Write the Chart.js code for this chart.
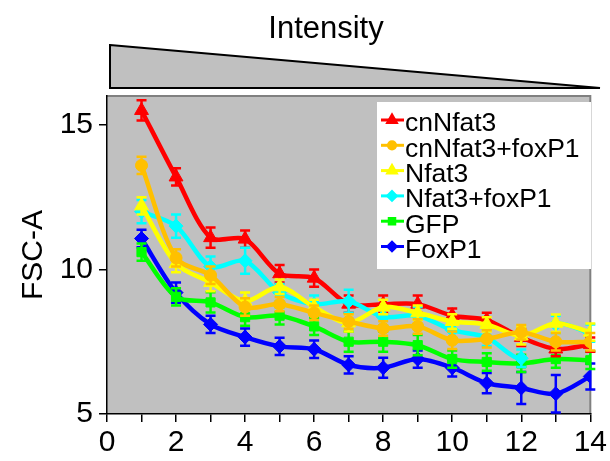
<!DOCTYPE html>
<html>
<head>
<meta charset="utf-8">
<script src="https://cdn.jsdelivr.net/npm/chart.js@4.4.1/dist/chart.umd.min.js"></script>
<style>
  html, body { margin: 0; padding: 0; background: #fff; }
  #chart { display: block; }
</style>
</head>
<body>
<canvas id="chart" width="610" height="461"></canvas>
<script>
// Data
const xValues = [1, 2, 3, 4, 5, 6, 7, 8, 9, 10, 11, 12, 13, 14];
const yTicks = [5, 10, 15];

const cnNfat3 = [15.5, 13.2, 11.1, 11.05, 9.85, 9.7, 8.8, 8.8, 8.8, 8.4, 8.25, 7.65, 7.25, 7.4];
const cnNfat3Err = [0.35, 0.3, 0.35, 0.3, 0.3, 0.3, 0.3, 0.3, 0.3, 0.25, 0.25, 0.3, 0.25, 0.25];

const cnNfat3FoxP1 = [13.6, 10.4, 9.8, 8.7, 8.8, 8.5, 8.2, 7.96, 8.03, 7.55, 7.6, 7.83, 7.5, 7.5];
const cnNfat3FoxP1Err = [0.3, 0.3, 0.3, 0.3, 0.25, 0.25, 0.25, 0.25, 0.25, 0.3, 0.3, 0.25, 0.3, 0.3];

const nfat3 = [12.2, 10.2, 9.55, 8.9, 9.4, 8.7, 8.15, 8.7, 8.5, 8.2, 8.1, 7.7, 8.14, 7.83];
const nfat3Err = [0.3, 0.3, 0.3, 0.3, 0.25, 0.25, 0.3, 0.25, 0.25, 0.25, 0.25, 0.3, 0.3, 0.3];

const nfat3FoxP1 = [12.0, 11.5, 10.1, 10.3, 9.2, 8.8, 8.9, 8.36, 8.4, 7.9, 7.65, 6.93, 8.1, 7.8];
const nfat3FoxP1Err = [0.4, 0.4, 0.35, 0.45, 0.3, 0.3, 0.4, 0.3, 0.3, 0.3, 0.3, 0.3, 0.3, 0.3];

const gfp = [10.6, 9.05, 8.86, 8.35, 8.4, 8.03, 7.5, 7.5, 7.38, 6.9, 6.8, 6.75, 6.9, 6.86];
const gfpErr = [0.3, 0.3, 0.35, 0.3, 0.3, 0.3, 0.35, 0.35, 0.35, 0.3, 0.3, 0.3, 0.3, 0.3];

const foxP1 = [11.07, 9.2, 8.1, 7.66, 7.34, 7.24, 6.7, 6.6, 6.9, 6.6, 6.07, 5.9, 5.7, 6.3];
const foxP1Err = [0.3, 0.35, 0.3, 0.3, 0.3, 0.3, 0.3, 0.35, 0.3, 0.3, 0.35, 0.55, 0.65, 0.45];

const FONT = '"Liberation Sans", Arial, sans-serif';

function makeSeries(label, values, errors, color, style, radius, order) {
  return {
    label: label,
    data: xValues.map((x, i) => ({ x: x, y: values[i] })),
    errors: errors,
    borderColor: color,
    backgroundColor: color,
    pointBackgroundColor: color,
    pointBorderColor: color,
    pointStyle: style,
    pointRadius: radius,
    pointBorderWidth: 1,
    borderWidth: 4.5,
    tension: 0.3,
    order: order
  };
}

const datasets = [
  makeSeries('cnNfat3', cnNfat3, cnNfat3Err, '#FF0000', 'triangle', 8, 4),
  makeSeries('cnNfat3+foxP1', cnNfat3FoxP1, cnNfat3FoxP1Err, '#FFC000', 'circle', 6, 1),
  makeSeries('Nfat3', nfat3, nfat3Err, '#FFFF00', 'triangle', 8, 2),
  makeSeries('Nfat3+foxP1', nfat3FoxP1, nfat3FoxP1Err, '#00FFFF', 'rectRot', 7, 3),
  makeSeries('GFP', gfp, gfpErr, '#00FF00', 'rect', 6.5, 5),
  makeSeries('FoxP1', foxP1, foxP1Err, '#0000FF', 'rectRot', 7, 6)
];

// the cyan line is not drawn between x=12 and x=13 in the figure
datasets[3].segment = {
  borderColor: ctx => ctx.p0DataIndex === 11 ? 'rgba(0,0,0,0)' : undefined
};

// gray plot background + gray top/right frame
const plotBackground = {
  id: 'plotBackground',
  beforeDraw(chart) {
    const { ctx, chartArea: a } = chart;
    ctx.save();
    ctx.fillStyle = '#C0C0C0';
    ctx.fillRect(a.left, a.top, a.right - a.left, a.bottom - a.top);
    ctx.strokeStyle = '#808080';
    ctx.lineWidth = 2;
    ctx.beginPath();
    ctx.moveTo(a.left, a.top);
    ctx.lineTo(a.right, a.top);
    ctx.lineTo(a.right, a.bottom);
    ctx.stroke();
    ctx.restore();
  }
};

// vertical error bars with caps, drawn with each series
const errorBars = {
  id: 'errorBars',
  afterDatasetDraw(chart, args) {
    const ds = chart.data.datasets[args.index];
    if (!ds.errors) return;
    const { ctx } = chart;
    const xs = chart.scales.x, ys = chart.scales.y;
    ctx.save();
    ctx.strokeStyle = ds.borderColor;
    ctx.lineWidth = 2.5;
    ds.data.forEach((p, i) => {
      const e = ds.errors[i];
      const px = xs.getPixelForValue(p.x);
      const top = ys.getPixelForValue(p.y + e);
      const bot = ys.getPixelForValue(p.y - e);
      ctx.beginPath();
      ctx.moveTo(px, top); ctx.lineTo(px, bot);
      ctx.moveTo(px - 5, top); ctx.lineTo(px + 5, top);
      ctx.moveTo(px - 5, bot); ctx.lineTo(px + 5, bot);
      ctx.stroke();
    });
    ctx.restore();
  }
};

// "Intensity" title and the decreasing wedge
const intensityHeader = {
  id: 'intensityHeader',
  afterDraw(chart) {
    const { ctx } = chart;
    ctx.save();
    ctx.fillStyle = '#000';
    ctx.font = '31px ' + FONT;
    ctx.textAlign = 'center';
    ctx.textBaseline = 'alphabetic';
    ctx.fillText('Intensity', 326, 38);

    ctx.beginPath();
    ctx.moveTo(110, 45);
    ctx.lineTo(600, 88);
    ctx.lineTo(110, 88);
    ctx.closePath();
    ctx.fillStyle = '#C0C0C0';
    ctx.fill();
    ctx.strokeStyle = '#000';
    ctx.lineWidth = 2;
    ctx.stroke();
    ctx.restore();
  }
};

// legend box inside the plot
const boxLegend = {
  id: 'boxLegend',
  afterDraw(chart) {
    const { ctx } = chart;
    ctx.save();
    ctx.fillStyle = '#fff';
    ctx.fillRect(377, 102, 214, 167);
    ctx.font = '26.5px ' + FONT;
    ctx.textAlign = 'left';
    ctx.textBaseline = 'middle';
    chart.data.datasets.forEach((ds, i) => {
      const y = 120 + i * 25.3;
      ctx.strokeStyle = ds.borderColor;
      ctx.lineWidth = 3;
      ctx.beginPath();
      ctx.moveTo(381, y);
      ctx.lineTo(404, y);
      ctx.stroke();
      ctx.fillStyle = ds.borderColor;
      Chart.helpers.drawPoint(ctx, {
        pointStyle: ds.pointStyle,
        radius: ds.pointRadius * 0.6,
        rotation: 0,
        borderWidth: 1
      }, 392, y);
      ctx.fillStyle = '#000';
      ctx.fillText(ds.label, 405, y + 4);
    });
    ctx.restore();
  }
};

new Chart(document.getElementById('chart'), {
  type: 'line',
  data: { datasets: datasets },
  plugins: [plotBackground, errorBars, intensityHeader, boxLegend],
  options: {
    responsive: false,
    animation: false,
    layout: { padding: { top: 96, right: 17, left: 10, bottom: 0 } },
    plugins: {
      legend: { display: false },
      tooltip: { enabled: false }
    },
    scales: {
      x: {
        type: 'linear',
        min: 0,
        max: 14,
        afterFit: s => { s.height = 47; },
        ticks: {
          stepSize: 1,
          autoSkip: false,
          maxRotation: 0,
          color: '#000',
          padding: 3,
          font: { family: FONT, size: 30 },
          callback: v => (v % 2 === 0 ? String(v) : '')
        },
        grid: { drawOnChartArea: false, drawTicks: true, tickLength: 8, color: '#000', lineWidth: 1.5 },
        border: { color: '#000', width: 1.5 }
      },
      y: {
        min: 5,
        max: 16,
        afterFit: s => { s.width = 97; },
        afterBuildTicks: s => { s.ticks = yTicks.map(v => ({ value: v })); },
        ticks: {
          color: '#000',
          padding: 6,
          font: { family: FONT, size: 30 }
        },
        title: {
          display: true,
          text: 'FSC-A',
          color: '#000',
          padding: { top: 6, bottom: 0 },
          font: { family: FONT, size: 30 }
        },
        grid: { drawOnChartArea: false, drawTicks: true, tickLength: 8, color: '#000', lineWidth: 1.5 },
        border: { color: '#000', width: 1.5 }
      }
    }
  }
});
</script>
</body>
</html>
